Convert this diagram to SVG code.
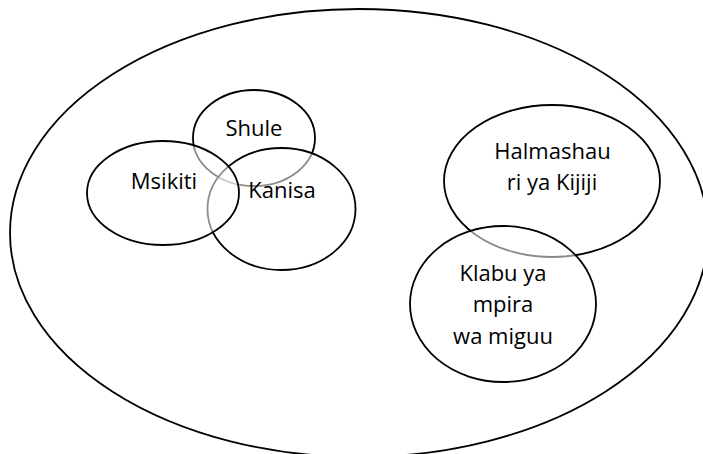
<svg xmlns="http://www.w3.org/2000/svg" width="703" height="454" viewBox="0 0 703 454">
<style>
.o{fill:none;stroke:#000;stroke-width:1.8}
.c{fill:#fff;fill-opacity:0.55;stroke:#000;stroke-width:1.8}
.t{font-family:"Open Sans","Liberation Sans",sans-serif;font-size:22px;fill:#000;text-anchor:middle}
</style>
<rect width="703" height="454" fill="#fff"/>
<g id="jamii"><ellipse class="o" cx="359" cy="233" rx="349" ry="224"/></g>
<g id="shule"><ellipse class="c" cx="254" cy="138" rx="61" ry="48"/><text class="t" x="254" y="136">Shule</text></g>
<g id="kanisa"><ellipse class="c" cx="281.5" cy="209" rx="74" ry="61"/><text class="t" x="282" y="198">Kanisa</text></g>
<g id="msikiti"><ellipse class="c" cx="163" cy="193" rx="76" ry="52"/><text class="t" x="164" y="189">Msikiti</text></g>
<g id="halmashauri"><ellipse class="c" cx="552" cy="181" rx="108" ry="76"/><text class="t" x="552.5" y="159">Halmashau</text><text class="t" x="552" y="190">ri ya Kijiji</text></g>
<g id="klabu"><ellipse class="c" cx="503" cy="304" rx="93" ry="78"/><text class="t" x="503" y="281">Klabu ya</text><text class="t" x="503" y="312">mpira</text><text class="t" x="503" y="344">wa miguu</text></g>
<g id="connectors"></g>
</svg>
